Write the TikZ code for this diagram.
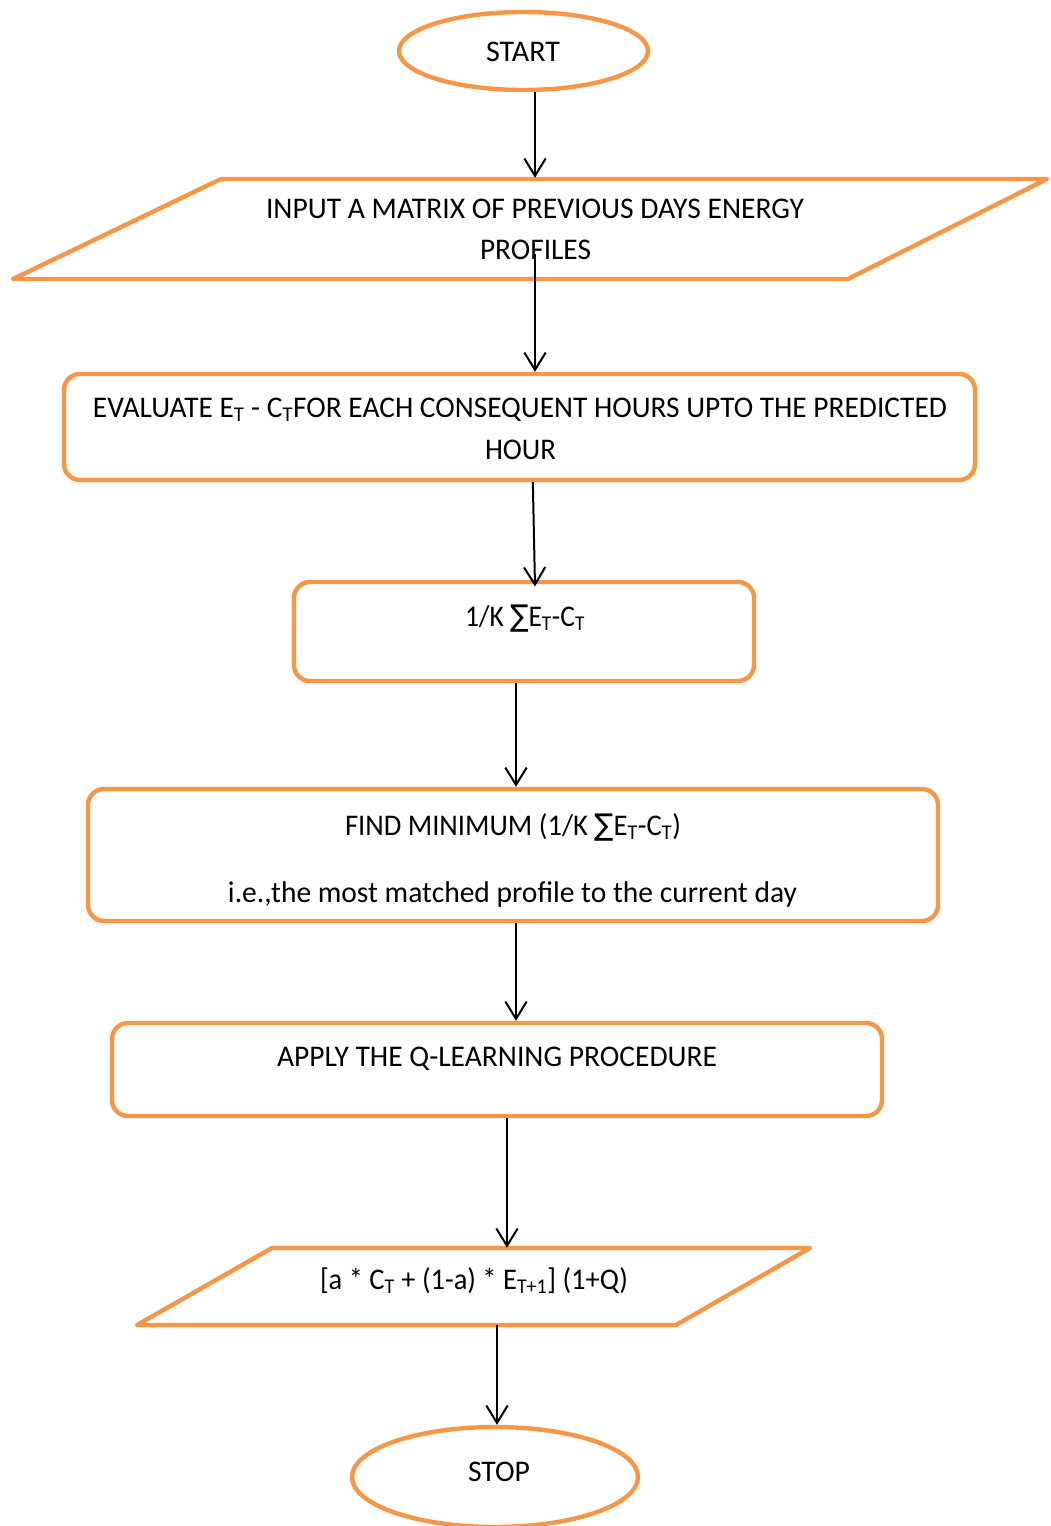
\documentclass[tikz,border=0pt]{standalone}
\usepackage{fontspec}
\setmainfont{Carlito}
\newfontfamily\symfont{DejaVu Sans}
\usetikzlibrary{shapes.geometric,arrows.meta,calc}
\newlength\pxu
\setlength\pxu{0.75pt}
\newcommand\fitw[2]{\resizebox{#1\pxu}{\height}{#2}}
\definecolor{flowor}{HTML}{F79646}
\begin{document}
\begin{tikzpicture}[x=0.75pt,y=-0.75pt,
  shapeline/.style={draw=flowor, line width=3.3pt},
  rbox/.style={shapeline, rectangle, rounded corners=12pt, inner sep=0pt},
  oval/.style={shapeline, ellipse, inner sep=0pt},
  frame/.style={rectangle, inner sep=0pt, minimum width=10pt},
  txt/.style={font=\fontsize{22.5}{27}\selectfont, inner sep=0pt, anchor=base},
  arr/.style={-{Straight Barb[length=13pt,width=16pt]}, line width=1.5pt}]
\useasboundingbox (0,0) rectangle (1050,1526);
\clip (0,0) rectangle (1050,1526);

% shapes
\node[oval, minimum width=186.75pt, minimum height=58.5pt] (start) at (523.5,51) {};
\node[frame, minimum height=76.5pt] (in) at (532.25,229) {};
\draw[shapeline, line join=round] (221,179) -- (1047,179) -- (848,279) -- (13,279) -- cycle;
\node[rbox, minimum width=683.25pt, minimum height=79.5pt] (eval) at (519.5,427) {};
\node[rbox, minimum width=345pt, minimum height=74.25pt] (ovr) at (524,631.5) {};
\node[rbox, minimum width=637.5pt, minimum height=99pt] (find) at (513,855) {};
\node[rbox, minimum width=577.5pt, minimum height=69.75pt] (apply) at (497,1069.5) {};
\node[frame, minimum height=57.75pt] (par) at (473.75,1286.5) {};
\draw[shapeline, line join=round] (272,1248) -- (810,1248) -- (676,1325) -- (137,1325) -- cycle;
\node[oval, minimum width=214.5pt, minimum height=75pt] (stop) at (495,1477) {};

% texts
\node[txt] (startT) at (523,61.5) {\fitw{74}{START}};
\node[txt] (inT1) at (535,218.5) {\fitw{538}{INPUT A MATRIX OF PREVIOUS DAYS ENERGY}};
\node[txt] (inT2) at (535.5,259.5) {\fitw{111}{PROFILES}};
\node[txt] (evT1) at (520,417.5) {\fitw{854}{EVALUATE E\textsubscript{T} - C\textsubscript{T}FOR EACH CONSEQUENT HOURS UPTO THE PREDICTED}};
\node[txt] (evT2) at (520.5,459.5) {\fitw{71}{HOUR}};
\node[txt] (kT) at (525,626.5) {\fitw{120}{1/K {\symfont ∑}E\textsubscript{T}-C\textsubscript{T}}};
\node[txt] (fT1) at (513,835.5) {\fitw{336}{FIND MINIMUM (1/K {\symfont ∑}E\textsubscript{T}-C\textsubscript{T})}};
\node[txt] (fT2) at (512.5,902) {\fitw{569}{i.e.,the most matched profile to the current day}};
\node[txt] (aT) at (497,1066.5) {\fitw{440}{APPLY THE Q-LEARNING PROCEDURE}};
\node[txt] (pT) at (474,1289.5) {\fitw{308}{[a * C\textsubscript{T} + (1-a) * E\textsubscript{T+1}] (1+Q)}};
\node[txt] (stopT) at (499,1481) {\fitw{62}{STOP}};

% connectors
\coordinate (x3s) at ([xshift=10pt]eval.south);
\coordinate (x3e) at ([xshift=8.25pt,yshift=-5pt]ovr.north);
\coordinate (x4) at ([xshift=-6pt]ovr.south);
\coordinate (x5) at ([xshift=2.25pt]find.south);
\coordinate (x6) at ([xshift=7.5pt]apply.south);
\coordinate (x7) at ([xshift=1.5pt]stop.north);
\coordinate (x2s) at ([yshift=20pt]in.south -| inT1);
\draw[arr] (start.south -| inT1) -- (in.north -| inT1);
\draw[arr] (x2s) -- (eval.north -| inT1);
\draw[arr] (x3s) -- (x3e);
\draw[arr] (x4) -- (x4 |- find.north);
\draw[arr] (x5) -- (x5 |- apply.north);
\draw[arr] (x6) -- (x6 |- par.north);
\draw[arr] (x7 |- par.south) -- (x7);
\end{tikzpicture}
\end{document}
